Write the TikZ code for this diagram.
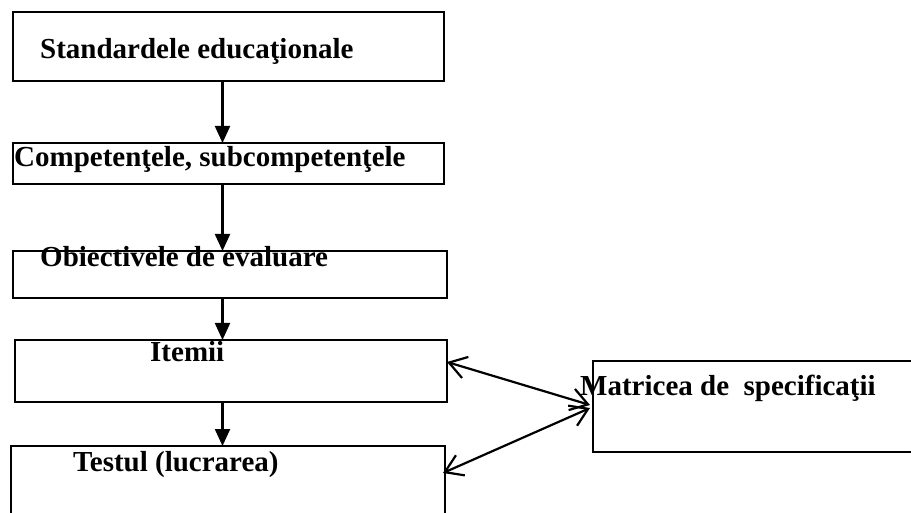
\documentclass[tikz,border=0pt]{standalone}
\usepackage{fontspec}
\setmainfont{Liberation Serif}
\usetikzlibrary{positioning,arrows.meta,calc}

\begin{document}
\begin{tikzpicture}[x=1pt,y=-1pt,
  box/.style={draw,line width=2.2pt,rectangle,inner sep=0pt,outer sep=0pt,anchor=north west},
  lbl/.style={anchor=base west,inner sep=0pt,font=\fontsize{29}{34}\selectfont\bfseries},
  down/.style={-{Triangle[length=17pt,width=15pt]},line width=2.2pt},
  both/.style={{Straight Barb[length=17pt,width=22pt]}-{Straight Barb[length=17pt,width=22pt]},line width=2.2pt}]
\useasboundingbox (0,0) rectangle (911,513);
\clip (0,0) rectangle (911,513);
% boxes
\node[box,minimum width=431pt,minimum height=69pt] (std) at (13,12) {};
\node[box,minimum width=431pt,minimum height=41pt] (comp) at (13,143) {};
\node[box,minimum width=434pt,minimum height=47pt] (obj) at (13,251) {};
\node[box,minimum width=432pt,minimum height=62pt] (item) at (15,340) {};
\node[box,minimum width=434pt,minimum height=100pt] (test) at (11,446) {};
\node[box,minimum width=340pt,minimum height=91pt] (matr) at (593,361) {};
% texts
\node[lbl] (std-t) at (40,59) {Standardele educaţionale};
\node[lbl] (comp-t) at (14,167) {Competenţele, subcompetenţele};
\node[lbl] (obj-t) at (40,267) {Obiectivele de evaluare};
\node[lbl] (item-t) at (150,361) {Itemii};
\node[lbl] (test-t) at (73,471) {Testul (lucrarea)};
\node[lbl] (matr-t) at (580,395) {Matricea de \ specificaţii};
% arrows
\coordinate (spine) at (222.5,0);
\draw[down] (std.south -| spine) -- (comp.north -| spine);
\draw[down] (comp.south -| spine) -- (obj.north -| spine);
\draw[down] (obj.south -| spine) -- (item.north -| spine);
\draw[down] (item.south -| spine) -- (test.north -| spine);
\draw[both] ([yshift=-22pt]item.north east) -- ([shift={(-3pt,1.5pt)}]matr.west);
\draw[both] ([shift={(-3pt,-1.5pt)}]matr.west) -- ([shift={(-2pt,-27pt)}]test.north east);
\end{tikzpicture}
\end{document}
